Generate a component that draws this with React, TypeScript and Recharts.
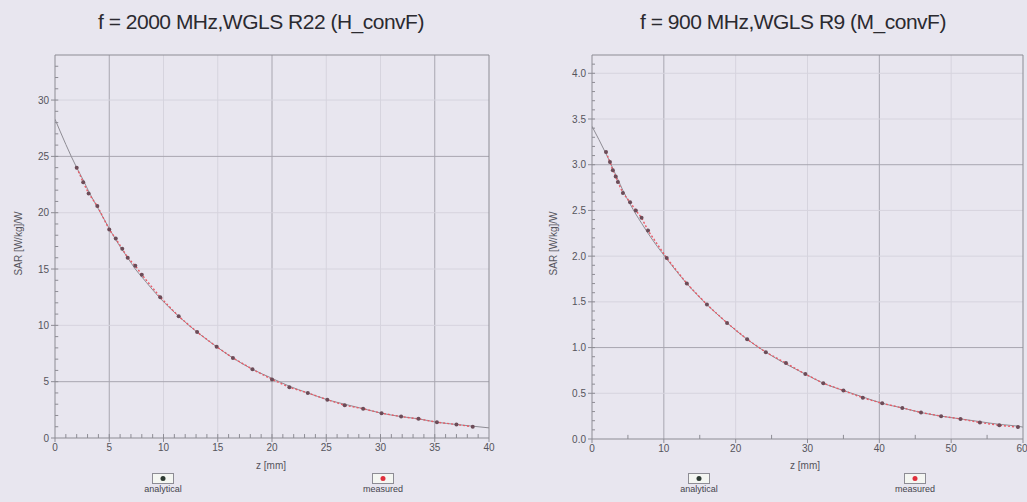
import { ComposedChart, Line, XAxis, YAxis, ReferenceLine } from 'recharts';

// 2000 MHz, WGLS R22
const leftZ = [0, 2.0, 2.6, 3.1, 3.9, 5.0, 5.6, 6.2, 6.7, 7.4, 8.0, 9.7, 11.4, 13.1, 14.9, 16.4, 18.2, 20.0, 21.6, 23.3, 25.1, 26.7, 28.4, 30.1, 31.9, 33.5, 35.2, 37.0, 38.5, 40];
const leftAnalytical = [28.3, 24.0, 22.9, 21.9, 20.5, 18.6, 17.6, 16.7, 16.0, 15.0, 14.3, 12.4, 10.8, 9.4, 8.1, 7.1, 6.1, 5.3, 4.6, 4.0, 3.4, 3.0, 2.6, 2.2, 1.9, 1.7, 1.4, 1.2, 1.05, 0.9];
const leftMeasured = [null, 24.0, 22.7, 21.7, 20.6, 18.5, 17.7, 16.8, 16.0, 15.3, 14.5, 12.5, 10.8, 9.4, 8.1, 7.1, 6.1, 5.2, 4.5, 4.0, 3.4, 2.9, 2.6, 2.2, 1.9, 1.7, 1.4, 1.2, 1.0, null];
const leftXTicks = [0, 5, 10, 15, 20, 25, 30, 35, 40];
const leftYTicks = [0, 5, 10, 15, 20, 25, 30];

// 900 MHz, WGLS R9
const rightZ = [0, 1.95, 2.5, 2.9, 3.3, 3.6, 4.3, 5.3, 6.1, 6.9, 7.8, 10.4, 13.2, 16.0, 18.8, 21.6, 24.2, 27.0, 29.7, 32.2, 35.0, 37.7, 40.4, 43.2, 45.8, 48.6, 51.3, 54.0, 56.7, 59.3, 60];
const rightAnalytical = [3.42, 3.12, 3.03, 2.96, 2.89, 2.84, 2.72, 2.57, 2.46, 2.36, 2.25, 1.97, 1.70, 1.47, 1.27, 1.09, 0.95, 0.82, 0.71, 0.61, 0.53, 0.46, 0.39, 0.34, 0.29, 0.25, 0.22, 0.19, 0.16, 0.14, 0.13];
const rightMeasured = [null, 3.14, 3.03, 2.94, 2.87, 2.81, 2.69, 2.59, 2.50, 2.42, 2.28, 1.98, 1.70, 1.47, 1.27, 1.09, 0.95, 0.83, 0.71, 0.61, 0.53, 0.45, 0.39, 0.34, 0.29, 0.25, 0.22, 0.18, 0.15, 0.13, null];
const rightXTicks = [0, 10, 20, 30, 40, 50, 60];
const rightYTicks = [0, 0.5, 1.0, 1.5, 2.0, 2.5, 3.0, 3.5, 4.0];

const BG = '#e8e6ef';
const FONT = '"Liberation Sans", Arial, sans-serif';
const strongGrid = '#a8a6b0';
const faintGrid = '#d6d4de';
const axisColor = '#8d8c94';

const range = (start: number, end: number, step: number) => {
  const out: number[] = [];
  for (let v = start; v <= end + 1e-9; v += step) out.push(Math.round(v * 100) / 100);
  return out;
};

interface PanelProps {
  left: number;
  width: number;
  marginLeft: number;
  marginRight: number;
  xAxisHeight: number;
  title: string;
  z: number[];
  analytical: number[];
  measured: (number | null)[];
  xTicks: number[];
  yTicks: number[];
  xMax: number;
  yMax: number;
  xMinor: number[];
  yMinor: number[];
  xMinorLen: number; // minor tick length along y, in data units
  yMinorLen: number; // minor tick length along x, in data units
  strongX: number[];
  strongY: number[];
  yDecimals: number;
  titleCenter: number;
  yLabelX: number;
  zLabelX: number;
  legendA: number;
  legendM: number;
}

function LegendIcon({ color }: { color: string }) {
  return (
    <svg width={22} height={11} style={{ display: 'block', margin: '0 auto' }}>
      <rect x={0.5} y={0.5} width={21} height={10} fill="#f4f6f2" stroke="#8d8c94" />
      <circle cx={11} cy={5.5} r={2.5} fill={color} />
    </svg>
  );
}

function Panel(p: PanelProps) {
  const data = p.z.map((z, i) => ({ z, analytical: p.analytical[i], measured: p.measured[i] }));
  const tickStyle = { fontSize: 10, fill: '#55545c', fontFamily: FONT };
  return (
    <div style={{ position: 'absolute', left: p.left, top: 0, width: p.width, height: 502 }}>
      <ComposedChart
        width={p.width}
        height={502}
        data={data}
        margin={{ top: 55, right: p.marginRight, left: p.marginLeft, bottom: 0 }}
      >
        <XAxis
          dataKey="z"
          type="number"
          domain={[0, p.xMax]}
          ticks={p.xTicks}
          height={p.xAxisHeight}
          stroke={axisColor}
          tick={tickStyle}
          tickSize={4}
          allowDataOverflow
        />
        <YAxis
          type="number"
          domain={[0, p.yMax]}
          ticks={p.yTicks}
          width={55}
          stroke={axisColor}
          tick={tickStyle}
          tickSize={4}
          tickFormatter={(v: number) => v.toFixed(p.yDecimals)}
          allowDataOverflow
        />
        {p.xTicks.filter((t) => t > 0 && t < p.xMax).map((t) => (
          <ReferenceLine key={'x' + t} x={t} stroke={p.strongX.includes(t) ? strongGrid : faintGrid} />
        ))}
        {p.yTicks.filter((t) => t > 0).map((t) => (
          <ReferenceLine key={'y' + t} y={t} stroke={p.strongY.includes(t) ? strongGrid : faintGrid} />
        ))}
        <ReferenceLine y={p.yMax} stroke={axisColor} />
        <ReferenceLine x={p.xMax} stroke={axisColor} />
        {p.xMinor.map((t) => (
          <ReferenceLine
            key={'mx' + t}
            segment={[{ x: t, y: 0 }, { x: t, y: p.xMinorLen }]}
            stroke={axisColor}
          />
        ))}
        {p.yMinor.map((t) => (
          <ReferenceLine
            key={'my' + t}
            segment={[{ x: 0, y: t }, { x: p.yMinorLen, y: t }]}
            stroke={axisColor}
          />
        ))}
        <Line
          dataKey="analytical"
          type="monotone"
          stroke="#8e8c94"
          strokeWidth={1}
          dot={false}
          isAnimationActive={false}
        />
        <Line
          dataKey="measured"
          type="linear"
          stroke="#e85a66"
          strokeWidth={1.4}
          strokeDasharray="2 2"
          dot={{ r: 2, fill: '#6c4c58', stroke: 'none' }}
          isAnimationActive={false}
        />
      </ComposedChart>
      <div
        style={{
          position: 'absolute', left: p.titleCenter - p.left - 200, width: 400, top: 10,
          textAlign: 'center', fontFamily: FONT, fontSize: 21, color: '#2b2a30', letterSpacing: -0.5,
        }}
      >
        {p.title}
      </div>
      <div
        style={{
          position: 'absolute', left: p.yLabelX - p.left - 50, width: 100, top: 238,
          textAlign: 'center', fontFamily: FONT, fontSize: 10, color: '#55545c',
          transform: 'rotate(-90deg)',
        }}
      >
        SAR [W/kg]/W
      </div>
      <div
        style={{
          position: 'absolute', left: p.zLabelX - p.left - 40, width: 80, top: 460,
          textAlign: 'center', fontFamily: FONT, fontSize: 10, color: '#55545c',
        }}
      >
        z [mm]
      </div>
      {[
        { label: 'analytical', cx: p.legendA, color: '#2d3a32' },
        { label: 'measured', cx: p.legendM, color: '#e0303c' },
      ].map((l) => (
        <div
          key={l.label}
          style={{
            position: 'absolute', left: l.cx - p.left - 40, width: 80, top: 473,
            textAlign: 'center', fontFamily: FONT, fontSize: 9, color: '#45444c', lineHeight: '11px',
          }}
        >
          <LegendIcon color={l.color} />
          {l.label}
        </div>
      ))}
    </div>
  );
}

export default function App() {
  return (
    <div style={{ position: 'absolute', left: 0, top: 0, width: 1027, height: 502, background: BG, overflow: 'hidden' }}>
      <Panel
        left={0}
        width={513}
        marginLeft={0}
        marginRight={24}
        xAxisHeight={64}
        title="f = 2000 MHz,WGLS R22 (H_convF)"
        z={leftZ}
        analytical={leftAnalytical}
        measured={leftMeasured}
        xTicks={leftXTicks}
        yTicks={leftYTicks}
        xMax={40}
        yMax={34}
        xMinor={range(1, 39, 1)}
        yMinor={range(1, 33, 1)}
        xMinorLen={0.35}
        yMinorLen={0.3}
        strongX={[5, 20, 35]}
        strongY={[5, 25]}
        yDecimals={0}
        titleCenter={261}
        yLabelX={18}
        zLabelX={271}
        legendA={163}
        legendM={383}
      />
      <Panel
        left={513}
        width={514}
        marginLeft={24}
        marginRight={4}
        xAxisHeight={63}
        title="f = 900 MHz,WGLS R9 (M_convF)"
        z={rightZ}
        analytical={rightAnalytical}
        measured={rightMeasured}
        xTicks={rightXTicks}
        yTicks={rightYTicks}
        xMax={60}
        yMax={4.2}
        xMinor={range(5, 55, 10)}
        yMinor={range(0.1, 4.1, 0.1)}
        xMinorLen={0.045}
        yMinorLen={0.42}
        strongX={[10, 40]}
        strongY={[1.0, 3.0]}
        yDecimals={1}
        titleCenter={793}
        yLabelX={553}
        zLabelX={805}
        legendA={699}
        legendM={915}
      />
    </div>
  );
}
